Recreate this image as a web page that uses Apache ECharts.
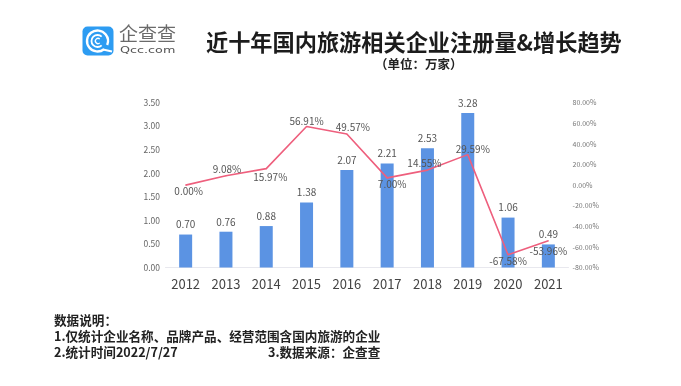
<!DOCTYPE html>
<html><head><meta charset="utf-8">
<style>html,body{margin:0;padding:0;background:#fff}#c{width:681px;height:386px}</style>
<script src="https://cdn.jsdelivr.net/npm/echarts@6/dist/echarts.min.js"></script></head>
<body><div id="c"></div>
<script>
const years = ['2012','2013','2014','2015','2016','2017','2018','2019','2020','2021'];
const counts = [0.70,0.76,0.88,1.38,2.07,2.21,2.53,3.28,1.06,0.49];
const growth = [0.00,9.08,15.97,56.91,49.57,7.00,14.55,29.59,-67.58,-53.96];
const growthLabelOffsets = [[3,14],[1,1],[4,16],[0,2],[6,1],[5,14],[-3,1],[5,2],[0,14],[0,18]];
const FONT = '"Noto Sans CJK SC","Noto Sans",sans-serif';
const chart = echarts.init(document.getElementById('c'), null, {renderer:'canvas'});
chart.setOption({
  animation:false,
  backgroundColor:'#fff',
  textStyle:{fontFamily:FONT},
  grid:{left:165.5,right:112.5,top:102.7,bottom:118.5},
  xAxis:{type:'category',data:years,
    axisLine:{lineStyle:{color:'#e8e8ee',width:1}},axisTick:{show:false},
    axisLabel:{color:'#444',fontSize:13,margin:10,fontFamily:FONT}},
  yAxis:[
    {type:'value',min:0,max:3.5,interval:0.5,splitLine:{show:false},axisLine:{show:false},axisTick:{show:false},
     axisLabel:{color:'#666',fontSize:8.5,margin:5.5,formatter:v=>v.toFixed(2),fontFamily:FONT}},
    {type:'value',min:-80,max:80,interval:20,splitLine:{show:false},axisLine:{show:false},axisTick:{show:false},
     axisLabel:{color:'#777',fontSize:7,margin:4,align:'left',formatter:v=>v.toFixed(2)+'%',fontFamily:FONT}}
  ],
  series:[
    {type:'bar',data:counts,barWidth:13,itemStyle:{color:'#5b93e3'},
     label:{show:true,position:'top',distance:5,color:'#555',fontSize:10,formatter:p=>p.value.toFixed(2),fontFamily:FONT}},
    {type:'line',yAxisIndex:1,symbol:'circle',symbolSize:1,showSymbol:true,smooth:false,z:5,
     itemStyle:{color:'#ee5f7d'},
     lineStyle:{color:'#ee5f7d',width:1.6},
     data:growth.map((v,i)=>({value:v,label:{offset:growthLabelOffsets[i]}})),
     label:{show:true,position:'top',distance:2,color:'#555',fontSize:10,formatter:p=>p.value.toFixed(2)+'%',fontFamily:FONT}}
  ],
  graphic:[
    {type:'rect',shape:{x:82.5,y:26.5,width:31,height:29,r:5},style:{fill:'#2d9cf2'}},
    {type:'arc',shape:{cx:97.5,cy:41,r:10.5,startAngle:0.9,endAngle:0.4+Math.PI*2},style:{stroke:'#fff',lineWidth:2.4,fill:null}},
    {type:'arc',shape:{cx:97.5,cy:41,r:6,startAngle:0.8,endAngle:Math.PI*2-0.8},style:{stroke:'#fff',lineWidth:1.8,fill:null}},
    {type:'arc',shape:{cx:98,cy:41,r:2.6,startAngle:0.8,endAngle:Math.PI*2-0.8},style:{stroke:'#fff',lineWidth:1.3,fill:null}},
    {type:'line',shape:{x1:103,y1:49.5,x2:112,y2:51.5},style:{stroke:'#fff',lineWidth:2}},
    {type:'text',style:{x:119,y:34,text:'企查查',font:'19px '+FONT,fill:'#6a6a6a',textVerticalAlign:'middle'}},
    {type:'text',x:120,y:51,scaleX:1.5,style:{x:0,y:0,text:'Qcc.com',font:'8.5px "DejaVu Sans"',fill:'#555',textVerticalAlign:'middle'}},
    {type:'text',style:{x:206,y:43,text:'近十年国内旅游相关企业注册量&增长趋势',font:'bold 22.2px '+FONT,fill:'#1c1c1c',textVerticalAlign:'middle'}},
    {type:'text',style:{x:375,y:64,text:'（单位：万家）',font:'bold 12.5px '+FONT,fill:'#222',textVerticalAlign:'middle'}},
    {type:'text',style:{x:54,y:320,text:'数据说明：',font:'bold 12.6px '+FONT,fill:'#222',textVerticalAlign:'middle'}},
    {type:'text',style:{x:54,y:336,text:'1.仅统计企业名称、品牌产品、经营范围含国内旅游的企业',font:'bold 12.6px '+FONT,fill:'#222',textVerticalAlign:'middle'}},
    {type:'text',style:{x:54,y:352,text:'2.统计时间2022/7/27',font:'bold 12.6px '+FONT,fill:'#222',textVerticalAlign:'middle'}},
    {type:'text',style:{x:268,y:352,text:'3.数据来源：企查查',font:'bold 12.6px '+FONT,fill:'#222',textVerticalAlign:'middle'}}
  ]
});
</script></body></html>
